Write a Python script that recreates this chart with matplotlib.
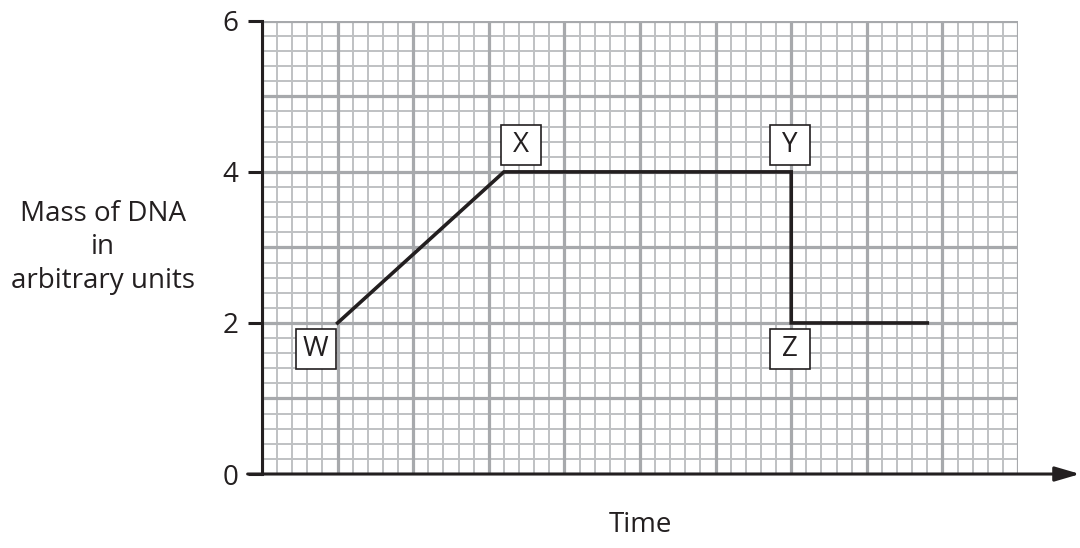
import matplotlib.pyplot as plt
import numpy as np

plt.rcParams['font.family'] = ['Open Sans', 'DejaVu Sans']
plt.rcParams['font.size'] = 20

# data
time = [1, 3.2, 7, 7, 8.8]
mass = [2, 4, 4, 2, 2]
point_names = ['W', 'X', 'Y', 'Z']
# which point in the series each label belongs to, and where its box sits
label_idx = [0, 1, 2, 3]
label_offsets = [(-0.29, -0.35), (0.23, 0.35), (-0.02, 0.35), (-0.02, -0.35)]
y_ticks = [0, 2, 4, 6]

x_max = 10
y_max = 6

fig = plt.figure(figsize=(10.8, 5.48), dpi=100)
ax = fig.add_axes([0.2426, 0.135, 0.7, 0.827])
ax.set_xlim(0, x_max)
ax.set_ylim(0, y_max)

# graph paper grid
minor_col = '#bfc1c3'
major_col = '#a7a9ac'
for v in np.arange(0, x_max + 0.01, 0.2):
    is_major = abs(v - round(v)) < 1e-6
    ax.axvline(v, color=major_col if is_major else minor_col,
               lw=2.3 if is_major else 1.4, zorder=1 if is_major else 0)
for v in np.arange(0, y_max + 0.01, 0.2):
    is_major = abs(v - round(v)) < 1e-6
    ax.axhline(v, color=major_col if is_major else minor_col,
               lw=2.3 if is_major else 1.4, zorder=1 if is_major else 0)

ax.plot(time, mass, color='#231f20', lw=2.6, zorder=3, solid_joinstyle='miter')

# boxed point labels
for i, (dx, dy) in zip(label_idx, label_offsets):
    bx, by = time[i] + dx, mass[i] + dy
    ax.plot(bx, by, marker='s', ms=28.5, mfc='white', mec='#231f20', mew=1.2,
            zorder=4, clip_on=False)
    ax.text(bx, by, point_names[i], ha='center', va='center', zorder=5,
            color='#231f20')

for s in ['top', 'right', 'bottom']:
    ax.spines[s].set_visible(False)
ax.spines['left'].set_linewidth(2.2)
ax.spines['left'].set_color('#231f20')
ax.spines['left'].set_zorder(5)

ax.set_xticks([])
ax.set_yticks(y_ticks)
ax.tick_params(axis='y', length=10, width=2.2, color='#231f20', pad=7,
               labelsize=20, labelcolor='#231f20')

# x axis with arrow
ax.annotate('', xy=(10.82, 0), xytext=(-0.19, 0), xycoords='data',
            annotation_clip=False,
            arrowprops=dict(arrowstyle='-|>,head_length=0.75,head_width=0.22',
                            color='#231f20', lw=2.2, shrinkA=0, shrinkB=0),
            zorder=5)

ax.text(-2.1, 3, 'Mass of DNA\nin\narbitrary units', ha='center', va='center',
        color='#231f20', linespacing=1.25, clip_on=False)
ax.text(5.0, -0.68, 'Time', ha='center', va='center', color='#231f20', clip_on=False)

fig.savefig('out.png', dpi=100)
